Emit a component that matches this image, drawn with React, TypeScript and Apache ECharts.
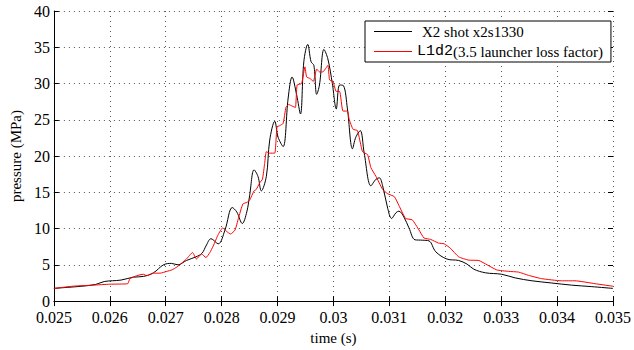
import React, { useEffect, useRef } from "react";
import * as echarts from "echarts";

// Measured shot trace: [time (s), pressure (MPa)]
const shotTime = [
  0.025, 0.02525, 0.0255, 0.02575, 0.0259, 0.0262, 0.02642, 0.0266, 0.02678, 0.02696,
  0.0271, 0.02722, 0.02737, 0.02754, 0.02765, 0.02772, 0.02781, 0.02794, 0.02806, 0.02819,
  0.02827, 0.02837, 0.02845, 0.0285, 0.02858, 0.02865, 0.02871, 0.0288, 0.02886, 0.02895,
  0.02901, 0.0291, 0.02919, 0.02926, 0.02934, 0.02941, 0.02947, 0.02954, 0.0296, 0.02965,
  0.0297, 0.02975, 0.02983, 0.0299, 0.02998, 0.03005, 0.03011, 0.03018, 0.03025, 0.03034,
  0.0304, 0.03048, 0.03055, 0.03067, 0.03076, 0.03082, 0.03088, 0.03097, 0.03104, 0.03112,
  0.03117, 0.03126, 0.03135, 0.03146, 0.03159, 0.03171, 0.03183, 0.03203, 0.03224, 0.03239,
  0.03251, 0.03272, 0.03301, 0.03325, 0.03355, 0.0339, 0.03426, 0.03461, 0.035,
];
const shotPressure = [
  1.75, 1.9, 2.05, 2.3, 2.7, 2.9, 3.3, 3.4, 3.9, 5.0,
  5.2, 5.0, 5.6, 6.1, 6.6, 7.6, 8.6, 7.9, 9.8, 12.9,
  12.3, 10.7, 12.3, 14.5, 18.1, 17.2, 15.2, 17.2, 22.2, 24.8,
  22.6, 21.3, 28.0, 30.9, 28.5, 25.8, 33.0, 35.4, 33.0, 32.5,
  28.5, 29.8, 34.7, 33.4, 30.0, 26.5, 29.8, 29.7, 26.5, 21.0,
  22.6, 23.5, 20.4, 15.9, 16.8, 17.0, 15.9, 12.8, 11.4, 12.2,
  12.4, 11.6, 10.1, 8.45, 8.4, 8.3, 6.8, 5.8, 5.6, 5.1,
  4.4, 3.9, 3.7, 3.2, 2.8, 2.5, 2.2, 2.0, 1.75,
];

// Simulated trace (L1d2, 3.5 launcher loss factor)
const simTime = [
  0.025, 0.02535, 0.0257, 0.026, 0.02618, 0.02632, 0.02636, 0.02648, 0.0266, 0.02666,
  0.02678, 0.0269, 0.02702, 0.02711, 0.0272, 0.02728, 0.02737, 0.02748, 0.02755, 0.02764,
  0.02772, 0.02779, 0.02785, 0.02794, 0.02802, 0.02809, 0.02816, 0.02824, 0.0283, 0.02838,
  0.02845, 0.0285, 0.02858, 0.02862, 0.02868, 0.02873, 0.02877, 0.0288, 0.02886, 0.02895,
  0.02899, 0.02904, 0.0291, 0.02915, 0.0292, 0.02926, 0.02932, 0.02935, 0.02943, 0.02949,
  0.02952, 0.02958, 0.02964, 0.0297, 0.02975, 0.02981, 0.0299, 0.02993, 0.02999, 0.03005,
  0.03011, 0.03017, 0.03025, 0.03028, 0.03035, 0.03043, 0.03052, 0.03061, 0.03067, 0.03076,
  0.03088, 0.03097, 0.03109, 0.03117, 0.03129, 0.03141, 0.03153, 0.03162, 0.03174, 0.03188,
  0.03198, 0.03209, 0.03224, 0.03242, 0.0326, 0.03275, 0.03292, 0.03313, 0.03331, 0.03349,
  0.03372, 0.03408, 0.03432, 0.03468, 0.035,
];
const simPressure = [
  1.75, 2.06, 2.2, 2.33, 2.35, 2.4, 3.1, 3.5, 3.7, 3.5,
  3.85, 3.85, 4.1, 4.3, 4.7, 5.2, 5.8, 6.7, 5.8, 6.5,
  6.0, 6.7, 7.6, 9.2, 10.1, 9.6, 9.25, 9.8, 11.4, 13.4,
  13.6, 13.9, 15.2, 15.4, 16.3, 16.8, 19.0, 20.6, 20.4, 20.4,
  24.0, 24.2, 24.5, 26.7, 27.1, 26.9, 26.7, 29.8, 30.0, 32.3,
  30.9, 30.7, 30.3, 32.0, 31.6, 31.6, 32.5, 30.5, 30.3, 28.9,
  28.9, 26.2, 26.2, 25.1, 23.7, 23.5, 20.6, 20.2, 18.4, 17.2,
  15.4, 14.8, 14.4, 13.2, 11.4, 11.2, 9.8, 8.7, 8.5, 8.0,
  7.9, 7.3, 6.1, 5.65, 5.6, 5.0, 4.3, 4.1, 4.0, 3.55,
  3.1, 2.8, 2.8, 2.4, 2.05,
];

const xTicks = [0.025, 0.026, 0.027, 0.028, 0.029, 0.03, 0.031, 0.032, 0.033, 0.034, 0.035];

const FONT = "Times New Roman";
const MONO = "Courier New";

const pair = (t: number[], p: number[]) => t.map((v, i) => [v, p[i]]);

const gridLine = {
  show: true,
  lineStyle: { color: "#555", type: [1, 4] as number[], width: 1 },
};

export default function App() {
  const ref = useRef<HTMLDivElement>(null);

  useEffect(() => {
    if (!ref.current) return;
    const chart = echarts.init(ref.current, null, { renderer: "svg" });
    const fmtX = (v: number) => {
      const s = xTicks.find((t) => Math.abs(t - v) < 1e-9);
      return s === undefined ? "" : String(s);
    };
    chart.setOption({
      animation: false,
      backgroundColor: "#fff",
      textStyle: { fontFamily: FONT },
      grid: { left: 53, right: 19, top: 11, bottom: 42, containLabel: false },
      legend: {
        left: 365,
        top: 21,
        orient: "vertical",
        backgroundColor: "#fff",
        borderColor: "#000",
        borderWidth: 1,
        borderRadius: 0,
        padding: [2, 8, 2, 9],
        itemGap: 3,
        itemWidth: 38,
        itemHeight: 1.2,
        icon: "rect",
        textStyle: {
          fontFamily: FONT,
          fontSize: 15,
          color: "#000",
          lineHeight: 17,
          rich: {
            a: { fontFamily: FONT, fontSize: 15, color: "#000", padding: [0, 0, 0, 5] },
            m: { fontFamily: MONO, fontSize: 15, color: "#000" },
            b: { fontFamily: FONT, fontSize: 15, color: "#000" },
          },
        },
        formatter: (name: string) =>
          name.startsWith("L1d2")
            ? "{m|L1d2}{b|" + name.slice(4) + "}"
            : "{a|" + name + "}",
        data: ["X2 shot x2s1330", "L1d2(3.5 launcher loss factor)"],
      },
      xAxis: [
        {
          type: "value",
          min: 0.025,
          max: 0.035,
          interval: 0.001,
          name: "time (s)",
          nameLocation: "middle",
          nameGap: 22,
          nameTextStyle: { fontFamily: FONT, fontSize: 15, color: "#000" },
          axisLine: { show: true, lineStyle: { color: "#000", width: 1 } },
          axisTick: { show: true, inside: true, length: 5, lineStyle: { color: "#000" } },
          axisLabel: {
            fontFamily: FONT,
            fontSize: 16,
            color: "#000",
            margin: 8,
            lineHeight: 16,
            formatter: fmtX,
          },
          splitLine: gridLine,
        },
        {
          type: "value",
          position: "top",
          min: 0.025,
          max: 0.035,
          interval: 0.001,
          axisLine: { show: false },
          axisTick: { show: true, inside: true, length: 5, lineStyle: { color: "#000" } },
          axisLabel: { show: false },
          splitLine: { show: false },
        },
      ],
      yAxis: [
        {
          type: "value",
          min: 0,
          max: 40,
          interval: 5,
          name: "pressure (MPa)",
          nameLocation: "middle",
          nameGap: 28,
          nameTextStyle: { fontFamily: FONT, fontSize: 15, color: "#000" },
          axisLine: { show: true, lineStyle: { color: "#000", width: 1 } },
          axisTick: { show: true, inside: true, length: 5, lineStyle: { color: "#000" } },
          axisLabel: {
            fontFamily: FONT,
            fontSize: 16,
            color: "#000",
            margin: 4,
            lineHeight: 14,
            padding: [0, 0, 6, 0],
          },
          splitLine: gridLine,
        },
        {
          type: "value",
          position: "right",
          min: 0,
          max: 40,
          interval: 5,
          axisLine: { show: false },
          axisTick: { show: true, inside: true, length: 5, lineStyle: { color: "#000" } },
          axisLabel: { show: false },
          splitLine: { show: false },
        },
      ],
      series: [
        {
          name: "X2 shot x2s1330",
          type: "line",
          data: pair(shotTime, shotPressure),
          showSymbol: false,
          symbol: "none",
          smooth: 0.35,
          lineStyle: { color: "#000", width: 1 },
          itemStyle: { color: "#000" },
        },
        {
          name: "L1d2(3.5 launcher loss factor)",
          type: "line",
          data: pair(simTime, simPressure),
          showSymbol: false,
          symbol: "none",
          smooth: 0.15,
          lineStyle: { color: "#ff0000", width: 1 },
          itemStyle: { color: "#ff0000" },
        },
      ],
    });
    return () => chart.dispose();
  }, []);

  return <div ref={ref} style={{ width: 634, height: 350, position: "absolute", left: 0, top: 0 }} />;
}
